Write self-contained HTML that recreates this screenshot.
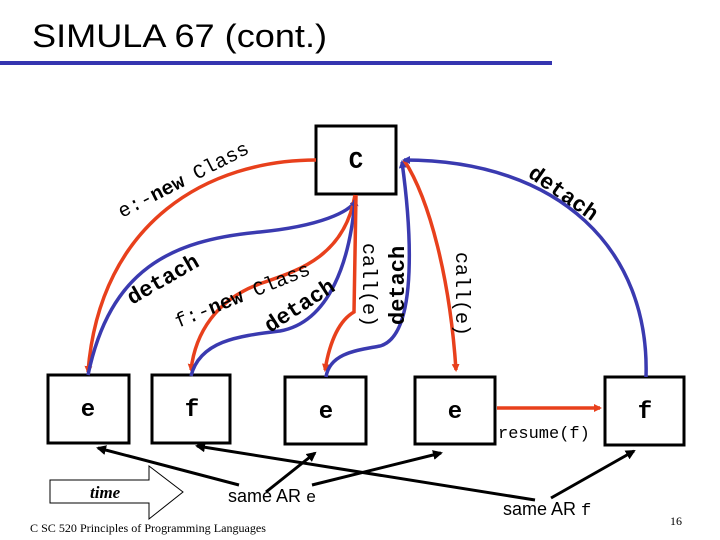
<!DOCTYPE html>
<html><head><meta charset="utf-8"><style>
html,body{margin:0;padding:0;background:#fff;}
svg{display:block;}
.m{font-family:"Liberation Mono",monospace;}
</style></head><body>
<svg width="720" height="540" viewBox="0 0 720 540" xmlns="http://www.w3.org/2000/svg">
<defs>
<marker id="ar" markerWidth="8" markerHeight="8" refX="6" refY="4" orient="auto" markerUnits="userSpaceOnUse"><path d="M0,0 L8,4 L0,8 z" fill="#e8401c"/></marker>
<marker id="ab" markerWidth="8" markerHeight="8" refX="6" refY="4" orient="auto" markerUnits="userSpaceOnUse"><path d="M0,0 L8,4 L0,8 z" fill="#3a3ab0"/></marker>
<marker id="ak" markerWidth="10" markerHeight="10" refX="8" refY="5" orient="auto" markerUnits="userSpaceOnUse"><path d="M0,0 L10,5 L0,10 z" fill="#000"/></marker>
</defs>
<text x="32" y="47" font-family="Liberation Sans,sans-serif" font-size="32" textLength="295" lengthAdjust="spacingAndGlyphs">SIMULA 67 (cont.)</text>
<rect x="0" y="61" width="552" height="4" fill="#3535b0"/>

<!-- boxes -->
<g fill="#fff" stroke="#000" stroke-width="3">
<rect x="316" y="126" width="80" height="68"/>
<rect x="48" y="375" width="81" height="68"/>
<rect x="152" y="375" width="78" height="68"/>
<rect x="285" y="377" width="81" height="67"/>
<rect x="415" y="377" width="80" height="67"/>
<rect x="605" y="377" width="79" height="68"/>
</g>
<g class="m" font-size="24" font-weight="bold" text-anchor="middle">
<text x="356" y="168">C</text>
<text x="88" y="416">e</text>
<text x="192" y="416">f</text>
<text x="326" y="418">e</text>
<text x="455" y="418">e</text>
<text x="645" y="418">f</text>
</g>

<!-- curves -->
<g fill="none" stroke-width="3.5">
<path d="M316,160 C210,160 100,220 88,372" stroke="#e8401c" marker-end="url(#ar)"/>
<path d="M88,375 C110,270 170,240 260,232 C320,226 350,212 356,200" stroke="#3a3ab0" marker-end="url(#ab)"/>
<path d="M355,195 C345,255 300,270 265,282 C215,298 195,335 191,370" stroke="#e8401c" marker-end="url(#ar)"/>
<path d="M191,376 C200,340 240,336 280,331 C330,322 350,260 355,200" stroke="#3a3ab0" marker-end="url(#ab)"/>
<path d="M356,195 L354,312 C340,320 330,340 325,370" stroke="#e8401c" marker-end="url(#ar)"/>
<path d="M326,377 C330,352 360,350 380,346 C420,335 410,220 402,162" stroke="#3a3ab0" marker-end="url(#ab)"/>
<path d="M404,160 C430,200 450,280 456,370" stroke="#e8401c" marker-end="url(#ar)"/>
<path d="M646,377 C650,250 560,160 404,160" stroke="#3a3ab0" marker-end="url(#ab)"/>
<path d="M497,408 L600,408" stroke="#e8401c" marker-end="url(#ar)"/>
</g>

<!-- labels -->
<g class="m" font-size="20">
<text transform="translate(122,218) rotate(-27)">e:-<tspan font-weight="bold">new</tspan> Class</text>
<text transform="translate(178,328) rotate(-22)">f:-<tspan font-weight="bold">new</tspan> Class</text>
<text transform="translate(363,243) rotate(90)">call(e)</text>
<text transform="translate(456,252) rotate(90)">call(e)</text>
<g font-weight="bold" font-size="22">
<text transform="translate(132,305) rotate(-30)">detach</text>
<text transform="translate(270,333) rotate(-33)">detach</text>
<text transform="translate(404,325) rotate(-90)">detach</text>
<text transform="translate(527,176) rotate(35)">detach</text>
</g>
<text x="498" y="438" font-size="17">resume(f)</text>
</g>

<!-- black arrows -->
<g stroke="#000" stroke-width="3" fill="none" marker-end="url(#ak)">
<line x1="239" y1="485" x2="98" y2="448"/>
<line x1="266" y1="492" x2="315" y2="453"/>
<line x1="312" y1="485" x2="441" y2="453"/>
<line x1="535" y1="500" x2="197" y2="446"/>
<line x1="551" y1="498" x2="634" y2="451"/>
</g>

<!-- time arrow -->
<path d="M50,480 L149,480 L149,466 L183,492 L149,519 L149,503 L50,503 Z" fill="#fff" stroke="#000" stroke-width="1"/>
<text x="90" y="498" font-family="Liberation Serif,serif" font-style="italic" font-weight="bold" font-size="17">time</text>

<text x="228" y="502" font-family="Liberation Sans,sans-serif" font-size="18">same AR <tspan class="m" font-size="17">e</tspan></text>
<text x="503" y="515" font-family="Liberation Sans,sans-serif" font-size="18">same AR <tspan class="m" font-size="17">f</tspan></text>
<text x="30" y="532" font-family="Liberation Serif,serif" font-size="12" textLength="236" lengthAdjust="spacingAndGlyphs">C SC 520 Principles of Programming Languages</text>
<text x="670" y="525" font-family="Liberation Serif,serif" font-size="12">16</text>
</svg>
</body></html>
